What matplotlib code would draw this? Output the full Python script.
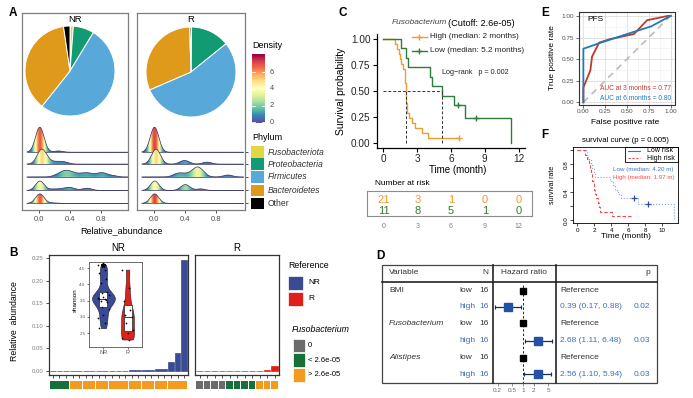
import numpy as np
import matplotlib
matplotlib.use('Agg')
import matplotlib.pyplot as plt
from matplotlib.lines import Line2D
from matplotlib.patches import Rectangle, Polygon
from matplotlib.colors import Normalize

plt.rcParams['font.family'] = ['Liberation Sans', 'DejaVu Sans']

W, H = 693, 398

# ---------------- data ----------------
# A: phylum share per group (%)
phyla = ['Fusobacteriota', 'Proteobacteria', 'Firmicutes', 'Bacteroidetes', 'Other']
pie_nr = [1.2, 7.5, 52.0, 37.0, 2.3]
pie_r = [0.2, 14.0, 54.3, 31.0, 0.5]

# A: per-sample relative abundance, used for the ridge densities
nr_fuso = [0.0, 0.0, 0.0, 0.0, 0.001, 0.001, 0.001, 0.002, 0.002, 0.003, 0.003,
           0.004, 0.005, 0.006, 0.008, 0.01, 0.012, 0.015, 0.02, 0.025, 0.245]
nr_prot = [0.0, 0.005, 0.01, 0.015, 0.02, 0.02, 0.025, 0.03, 0.03, 0.035, 0.04,
           0.045, 0.05, 0.06, 0.08, 0.1, 0.14, 0.2, 0.25, 0.3, 0.34]
nr_firm = [0.22, 0.27, 0.3, 0.32, 0.34, 0.36, 0.38, 0.4, 0.43, 0.47, 0.52,
           0.56, 0.6, 0.63, 0.66, 0.72, 0.78, 0.8, 0.83, 0.86, 0.95]
nr_bact = [0.0, 0.0, 0.001, 0.002, 0.003, 0.005, 0.008, 0.01, 0.012, 0.015, 0.02,
           0.15, 0.22, 0.3, 0.35, 0.38, 0.41, 0.44, 0.58, 0.62, 0.65]
nr_other = [0.0, 0.0, 0.0, 0.001, 0.001, 0.002, 0.002, 0.003, 0.003, 0.004, 0.005,
            0.006, 0.007, 0.008, 0.01, 0.012, 0.015, 0.018, 0.02, 0.03, 0.17]
r_fuso = [0.0, 0.0, 0.0, 0.0, 0.001, 0.001, 0.002, 0.003, 0.005, 0.008, 0.012]
r_prot = [0.0, 0.005, 0.01, 0.02, 0.025, 0.03, 0.04, 0.05, 0.37, 0.41, 0.68]
r_firm = [0.28, 0.33, 0.4, 0.48, 0.52, 0.54, 0.56, 0.57, 0.6, 0.63, 0.95]
r_bact = [0.0, 0.0, 0.002, 0.005, 0.01, 0.02, 0.37, 0.39, 0.41, 0.43, 0.6]
r_other = [0.0, 0.0, 0.0, 0.001, 0.002, 0.003, 0.004, 0.005, 0.006, 0.008, 0.01]

# B: Fusobacterium relative abundance per patient (sorted)
fuso_nr = [1.0e-5, 1.5e-5, 2.0e-5, 0.0001, 0.0002, 0.0003, 0.0004, 0.0005, 0.0006,
           0.0007, 0.0008, 0.001, 0.0012, 0.0015, 0.002, 0.003, 0.004, 0.0055,
           0.02, 0.04, 0.245]
fuso_r = [0, 0, 0, 0, 1.0e-5, 1.2e-5, 1.5e-5, 2.0e-5, 0.0006, 0.003, 0.011]
cutoff = 2.6e-05
# B inset: shannon index
shannon_nr = [4.6, 4.45, 4.35, 4.15, 4.05, 3.75, 3.72, 3.68, 3.6, 3.57, 3.55,
              3.55, 3.52, 3.5, 3.45, 3.3, 3.25, 3.05, 2.95, 2.8, 2.65]
shannon_r = [4.45, 3.9, 3.5, 3.2, 3.05, 3.0, 2.8, 2.6, 2.5, 2.35, 2.3]

# C: survival by Fusobacterium (months, 1 = event)
high_time = [1.05, 1.2, 1.35, 1.45, 1.55, 1.7, 1.9, 1.92, 1.94, 1.96, 2.0,
             2.0, 2.02, 2.05, 2.1, 2.3, 2.55, 2.8, 3.4, 4.0, 6.7]
high_event = [1] * 20 + [0]
low_time = [1.57, 2.0, 2.2, 4.15, 4.3, 5.2, 6.3, 6.6, 7.2, 8.2, 11.35]
low_event = [1, 1, 1, 1, 1, 1, 1, 0, 1, 0, 1]
risk_times = [0, 3, 6, 9, 12]

# D: Cox model
forest_vars = ['BMI', 'Fusobacterium', 'Alistipes']
forest_n = [16, 16, 16]
forest_hr = [0.39, 2.68, 2.56]
forest_lo = [0.17, 1.11, 1.10]
forest_hi = [0.88, 6.48, 5.94]
forest_p = ['0.02', '0.03', '0.03']

# E: time-dependent ROC
fpr_3m = [0, 0, 0.08, 0.1, 0.18, 0.3, 0.58, 0.73, 0.97, 1.0]
tpr_3m = [0, 0.17, 0.37, 0.53, 0.69, 0.73, 0.79, 0.95, 1.0, 1.0]
fpr_6m = [0, 0, 0.2, 0.5, 0.78, 1.0]
tpr_6m = [0, 0.62, 0.69, 0.79, 0.88, 1.0]
auc_3m, auc_6m = 0.77, 0.80

# F: risk score survival
lowrisk_time = [1.1, 1.3, 1.6, 1.8, 2.0, 2.1, 3.9, 4.2, 4.5, 4.8, 5.1, 6.7, 7.1, 8.3, 11.4, 11.4]
lowrisk_event = [1] * 11 + [0, 1, 0, 1, 1]
highrisk_time = [0.9, 1.2, 1.35, 1.5, 1.6, 1.7, 1.8, 1.97, 2.0, 2.1, 2.2, 2.4, 2.6, 2.7, 4.1, 6.3]
highrisk_event = [1] * 15 + [0]

# ---------------- colours ----------------
phylum_colors = ['#E3D545', '#129A72', '#58A9DA', '#DF9A1B', '#000000']
nr_col, r_col = '#3B4A94', '#E0201B'
grp_gray, grp_green, grp_orange = '#6B6B6B', '#17703A', '#F39A1F'
c_high, c_low = '#F29B30', '#2E7D3B'
d_blue, d_sq = '#3F6EB5', '#2451A4'
gray_txt = '#4D4D4D'

fig = plt.figure(figsize=(W / 100, H / 100), dpi=100)


def rect(l, t, r, b):
    return [l / W, 1 - b / H, (r - l) / W, (b - t) / H]


def ftext(x, y, s, **kw):
    kw.setdefault('va', 'center')
    kw.setdefault('ha', 'left')
    fig.text(x / W, 1 - y / H, s, **kw)


def fline(xs, ys, **kw):
    fig.add_artist(Line2D([x / W for x in xs], [1 - y / H for y in ys],
                          transform=fig.transFigure, **kw))


def fbox(l, t, r, b, **kw):
    fig.add_artist(Rectangle((l / W, 1 - b / H), (r - l) / W, (b - t) / H,
                             transform=fig.transFigure, **kw))


def km(times, events):
    t = np.asarray(times, float)
    e = np.asarray(events)
    xs, ys, cens = [0.0], [1.0], []
    s = 1.0
    for ut in np.unique(t):
        n = (t >= ut).sum()
        d = e[t == ut].sum()
        if d:
            s *= 1 - d / n
            xs.append(ut)
            ys.append(s)
        if (t == ut).sum() - d:
            cens.append((ut, s))
    xs.append(t.max())
    ys.append(s)
    return np.array(xs), np.array(ys), cens


def km_median(x, y):
    return x[np.argmax(y <= 0.5)]


# panel letters
for lab, x, y in [('A', 13, 13), ('B', 13, 253), ('C', 343, 13),
                  ('D', 380, 256), ('E', 545, 13), ('F', 545, 135)]:
    ftext(x, y, lab, ha='center', fontsize=8.5, fontweight='bold')

# ================= A =================
cmap = plt.get_cmap('Spectral_r')
dnorm = Normalize(0, 8.2)
xg = np.linspace(-0.16, 1.15, 400)
bw = 0.055
baselines = [152.2, 164.1, 176.9, 190.5, 203.4]
ridge_nr = [nr_fuso, nr_prot, nr_firm, nr_bact, nr_other]
ridge_r = [r_fuso, r_prot, r_firm, r_bact, r_other]
peak_nr = [25, 15, 6.7, 9.5, 9.5]
peak_r = [25, 15, 10, 9.5, 9.5]


def kde(vals):
    v = np.asarray(vals)[:, None]
    return np.exp(-0.5 * ((xg - v) / bw) ** 2).sum(0) / (len(vals) * bw * np.sqrt(2 * np.pi))


facets = [('NR', (22, 13, 128, 210), (-0.224, 1.148), (25, 26, 115, 116), pie_nr, ridge_nr, peak_nr),
          ('R', (137, 13, 245, 210), (-0.223, 1.17), (146, 27, 236, 117), pie_r, ridge_r, peak_r)]
for name, bpx, xl, ppx, pvals, groups, peaks in facets:
    ax = fig.add_axes(rect(*bpx))
    for i, (y0, vals, hp) in enumerate(zip(baselines, groups, peaks)):
        d = kde(vals)
        h = y0 - d / d.max() * hp
        poly = Polygon(np.column_stack([np.r_[xg, xg[::-1]], np.r_[h, np.full_like(xg, y0)]]),
                       closed=True, fc='none', ec='none')
        ax.add_patch(poly)
        im = ax.imshow(d[None, :], cmap=cmap, norm=dnorm, aspect='auto',
                       extent=(xg[0], xg[-1], y0, y0 - hp - 1), interpolation='bilinear',
                       zorder=2 + i)
        im.set_clip_path(poly)
        ax.plot(xg, h, color='#2D2F5E', lw=0.5, zorder=2.5 + i)
        ax.plot([xg[0], xg[-1]], [y0, y0], color='#2D2F5E', lw=0.5, zorder=2.5 + i)
    ax.set_xlim(xl)
    ax.set_ylim(bpx[3], bpx[1])
    ax.set_xticks([0, 0.4, 0.8])
    ax.set_xticklabels(['0.0', '0.4', '0.8'])
    ax.tick_params(axis='x', length=2.5, width=0.6, color='#333333', labelsize=5.5,
                   labelcolor=gray_txt, pad=1.5)
    if name == 'R':
        ax.yaxis.tick_right()
        ax.set_yticks(baselines)
        ax.set_yticklabels([])
        ax.tick_params(axis='y', length=2.5, width=0.6, color='#333333')
    else:
        ax.set_yticks([])
    for sp in ax.spines.values():
        sp.set_color('#7F7F7F')
        sp.set_linewidth(0.9)
    ax.text(np.mean(xl), 19, name, ha='center', va='center', fontsize=6.8)
    pa = fig.add_axes(rect(*ppx))
    pa.pie(pvals, colors=phylum_colors, startangle=90, counterclock=False,
           wedgeprops=dict(edgecolor='white', linewidth=0.7))
    pa.set_xlim(-1, 1)
    pa.set_ylim(-1, 1)
    pa.set_aspect('equal')

ftext(121, 231, 'Relative_abundance', ha='center', fontsize=6.5)

# density colour bar
cax = fig.add_axes(rect(252, 54, 265, 123))
grad = np.linspace(-0.12, 8.24, 256)[:, None]
cax.imshow(grad, cmap=cmap, norm=dnorm, aspect='auto', origin='lower', extent=(0, 1, -0.12, 8.24))
for v in [0, 2, 4, 6]:
    cax.plot([0, 0.2], [v, v], color='white', lw=0.6)
    cax.plot([0.8, 1], [v, v], color='white', lw=0.6)
    ftext(270, 122 - v * 8.25, str(v), fontsize=5.3, color=gray_txt)
cax.set_xlim(0, 1)
cax.set_ylim(-0.12, 8.24)
cax.set_xticks([])
cax.set_yticks([])
for sp in cax.spines.values():
    sp.set_visible(False)
ftext(252, 46, 'Density', fontsize=6.5)

ftext(252, 137, 'Phylum', fontsize=6.5)
for i, (ph, col) in enumerate(zip(phyla, phylum_colors)):
    y = baselines[i]
    fbox(251, y - 5.8, 264, y + 5.8, facecolor=col, edgecolor='none')
    ftext(268, y, ph, fontsize=6.2, color='#333333',
          fontstyle='normal' if ph == 'Other' else 'italic')

# ================= B =================
def grp_color(v):
    if v == 0:
        return grp_gray
    return grp_green if v < cutoff else grp_orange


for name, bpx, vals, col in [('NR', (49, 255, 188, 375), fuso_nr, nr_col),
                             ('R', (195, 255, 279, 375), fuso_r, r_col)]:
    bx = fig.add_axes(rect(*bpx))
    xs = np.arange(1, len(vals) + 1)
    bx.bar(xs, vals, width=0.9, color=col, edgecolor=col, linewidth=0.5)
    bx.set_xlim(0.4, len(vals) + 0.6)
    bx.set_ylim(-0.0088, 0.2566)
    bx.set_xticks(xs)
    bx.set_xticklabels([])
    bx.tick_params(axis='x', length=2.5, width=0.6, color='#333333')
    if name == 'NR':
        bx.set_yticks([0, 0.05, 0.1, 0.15, 0.2, 0.25])
        bx.set_yticklabels(['0.00', '0.05', '0.10', '0.15', '0.20', '0.25'])
        bx.tick_params(axis='y', length=2.5, width=0.6, color='#333333', labelsize=4.3,
                       labelcolor='#7F7F7F', pad=1.5)
    else:
        bx.set_yticks([])
    for sp in bx.spines.values():
        sp.set_color('#333333')
        sp.set_linewidth(0.9)
    ftext((bpx[0] + bpx[2]) / 2, 248, name, ha='center', fontsize=7)
    sx = fig.add_axes(rect(bpx[0], 381, bpx[2], 389))
    sx.bar(xs, 1, width=0.92, color=[grp_color(v) for v in vals])
    sx.set_xlim(0.4, len(vals) + 0.6)
    sx.set_ylim(0, 1)
    sx.axis('off')

ftext(15, 321, 'Relative  abundance', ha='center', rotation=90, fontsize=6.3)

# inset violin
vx = fig.add_axes(rect(89, 262, 142, 347))
parts = vx.violinplot([shannon_nr, shannon_r], positions=[1, 2], widths=[0.95, 0.55],
                      showextrema=False, bw_method=0.35)
for b, c in zip(parts['bodies'], [nr_col, r_col]):
    b.set_facecolor(c)
    b.set_edgecolor('#222222')
    b.set_alpha(1)
    b.set_linewidth(0.4)
vx.boxplot([shannon_nr, shannon_r], positions=[1, 2], widths=0.33, whis=0,
           showcaps=False, showfliers=False, patch_artist=True,
           boxprops=dict(facecolor='white', edgecolor='#222222', linewidth=0.5),
           medianprops=dict(color='#222222', linewidth=0.6),
           whiskerprops=dict(linewidth=0))
for pos, vals in [(1, shannon_nr), (2, shannon_r)]:
    jit = ((np.arange(len(vals)) * 5) % 9 - 4) * 0.055
    vx.scatter(pos + jit, vals, s=1.5, color='black', zorder=5, linewidths=0)
vx.plot([1], [max(shannon_nr)], marker='*', color='black', ms=3.5, zorder=6)
vx.set_xlim(0.4, 2.6)
vx.set_ylim(2.07, 4.685)
vx.set_yticks([2.5, 3.0, 3.5, 4.0, 4.5])
vx.set_yticklabels(['2.5', '3.0', '3.5', '4.0', '4.5'])
vx.set_xticks([1, 2])
vx.set_xticklabels(['NR', 'R'])
vx.tick_params(length=1.5, width=0.4, labelsize=3.2, labelcolor='#555555', pad=1)
vx.tick_params(axis='x', labelsize=4)
for sp in vx.spines.values():
    sp.set_color('#555555')
    sp.set_linewidth(0.6)
ftext(75, 300, 'shannon', ha='center', rotation=90, fontsize=4.5)

# B legends
ftext(288, 265, 'Reference', fontsize=6.3)
fbox(288, 276, 303, 290, facecolor=nr_col, edgecolor='white', lw=0.5)
fbox(288, 292, 303, 306, facecolor=r_col, edgecolor='white', lw=0.5)
ftext(308, 283, 'NR', fontsize=6)
ftext(308, 299, 'R', fontsize=6)
ftext(292, 329, 'Fusobacterium', fontsize=6.3, fontstyle='italic')
for (t, b), col, lab in zip([(339, 352.3), (353.3, 366.7), (368.3, 381.7)],
                            [grp_gray, grp_green, grp_orange],
                            ['0', '< 2.6e-05', '> 2.6e-05']):
    fbox(293, t, 305, b, facecolor=col, edgecolor='white', lw=0.5)
    ftext(308, (t + b) / 2, lab, fontsize=5.5)

# ================= C =================
cx = fig.add_axes(rect(376.75, 33.5, 525.25, 148.2))
cx.set_xlim(-0.6, 12.6)
cx.set_ylim(-0.05, 1.05)
medians = []
for tt, ee, col in [(high_time, high_event, c_high), (low_time, low_event, c_low)]:
    x, y, cens = km(tt, ee)
    cx.step(x, y, where='post', color=col, lw=1.0)
    cx.plot([c[0] for c in cens], [c[1] for c in cens], '+', color=col, ms=5, mew=1)
    medians.append(km_median(x, y))
cx.plot([0, max(medians)], [0.5, 0.5], ls='--', color='#333333', lw=0.7, dashes=(3, 2))
for m in medians:
    cx.plot([m, m], [0, 0.5], ls='--', color='#333333', lw=0.7, dashes=(3, 2))
cx.set_xticks(risk_times)
cx.set_yticks([0, 0.25, 0.5, 0.75, 1.0])
cx.set_yticklabels(['0.00', '0.25', '0.50', '0.75', '1.00'])
cx.tick_params(length=3, width=0.8, labelsize=7.2, pad=1.5, labelcolor='#222222')
for sp in ['top', 'right']:
    cx.spines[sp].set_visible(False)
for sp in ['left', 'bottom']:
    cx.spines[sp].set_linewidth(0.9)
ftext(458, 170, 'Time (month)', ha='center', fontsize=7)
ftext(341, 91, 'Survival probability', ha='center', rotation=90, fontsize=7.5)
ftext(447, 23, 'Fusobacterium', ha='right', fontsize=6, fontstyle='italic', color='#444444')
ftext(448, 23, '(Cutoff: 2.6e-05)', fontsize=6.6)
for y, col, lab in [(37, c_high, 'High (median: 2 months)'),
                    (51, c_low, 'Low (median: 5.2 months)')]:
    fline([412, 427], [y, y], color=col, lw=1.0)
    fline([419.5], [y], color=col, marker='+', ms=5, mew=1)
    ftext(430, y, lab, fontsize=5.9, color='#222222')
ftext(442, 72, 'Log\u2212rank   p = 0.002', fontsize=5.2, color='#222222')

# risk table
ftext(375, 183, 'Number at risk', fontsize=6)
rx = fig.add_axes(rect(367, 191, 532, 216))
rx.set_xlim(-1.467, 13.2)
rx.set_ylim(0, 1)
rx.set_xticks([])
rx.set_yticks([])
for sp in rx.spines.values():
    sp.set_color('#8C8C8C')
    sp.set_linewidth(0.8)
for tt, col, yy in [(high_time, c_high, 0.64), (low_time, c_low, 0.19)]:
    arr = np.asarray(tt)
    for tp in risk_times:
        rx.text(tp, yy, str((arr >= tp).sum()), ha='center', va='center', fontsize=8, color=col)
for tp in risk_times:
    ftext(383.5 + 11.25 * tp, 226, str(tp), ha='center', fontsize=5, color='#7F7F7F')

# ================= D =================
fbox(382, 265, 657, 383.3, fill=False, edgecolor='#444444', lw=0.9)
fline([382, 657], [281.7, 281.7], color='#222222', lw=1.2)
fline([492.7, 492.7], [265, 383.3], color='#222222', lw=1.2)
fline([555.7, 555.7], [265, 383.3], color='#222222', lw=1.2)
ftext(389, 273, 'Variable', fontsize=6, color='#333333')
ftext(488.3, 273, 'N', ha='right', fontsize=6, color='#333333')
ftext(524, 273, 'Hazard ratio', ha='center', fontsize=6, color='#333333')
ftext(650, 273, 'p', ha='right', fontsize=6, color='#333333')
row_y = [291, 306.7, 323.3, 340.7, 357.7, 374.3]

fx_ = fig.add_axes(rect(492.7, 281.7, 555.7, 383.3))
fx_.set_xscale('log')
fx_.set_xlim(0.146, 8.0)
fx_.set_ylim(383.3, 281.7)
fx_.patch.set_alpha(0)
fx_.plot([1, 1], [285, 383.3], ls='--', color='#222222', lw=0.7, dashes=(2.5, 2))
for i, var in enumerate(forest_vars):
    yl, yh = row_y[2 * i], row_y[2 * i + 1]
    ftext(389, yl, var, fontsize=6, color='#333333',
          fontstyle='normal' if i == 0 else 'italic')
    ftext(459.3, yl, 'low', fontsize=6, color='#333333')
    ftext(488.3, yl, str(forest_n[i]), ha='right', fontsize=6, color='#333333')
    ftext(459.3, yh, 'high', fontsize=6, color=d_blue)
    ftext(488.3, yh, str(forest_n[i]), ha='right', fontsize=6, color=d_blue)
    ftext(560, yl, 'Reference', fontsize=6, color='#333333')
    ftext(560, yh, f'{forest_hr[i]:.2f} ({forest_lo[i]:.2f}, {forest_hi[i]:.2f})',
          fontsize=6, color=d_blue)
    ftext(650, yh, forest_p[i], ha='right', fontsize=6, color=d_blue)
    fx_.plot([1], [yl], marker='s', ms=5, color='black', zorder=4)
    fx_.plot([forest_lo[i], forest_hi[i]], [yh, yh], color='#1B2B5B', lw=0.9, zorder=3)
    fx_.plot([forest_lo[i], forest_hi[i]], [yh, yh], ls='none', marker='|', ms=3.5,
             mew=0.8, color='#1B2B5B', zorder=3)
    fx_.plot([forest_hr[i]], [yh], marker='s', ms=5.5, color=d_sq, zorder=4)
fx_.set_xticks([0.2, 0.5, 1, 2, 5])
fx_.set_xticklabels(['0.2', '0.5', '1', '2', '5'])
fx_.minorticks_off()
fx_.set_yticks([])
fx_.tick_params(axis='x', length=2, width=0.5, color='#666666', labelsize=4.6,
                labelcolor='#666666', pad=1.5)
for sp in fx_.spines.values():
    sp.set_visible(False)

# ================= E =================
ex = fig.add_axes(rect(579, 12, 675, 104.5))
ex.set_xlim(-0.05, 1.05)
ex.set_ylim(-0.025, 1.045)
ticks = [0, 0.25, 0.5, 0.75, 1.0]
ex.set_xticks(ticks)
ex.set_yticks(ticks)
ex.set_xticklabels(['0.00', '0.25', '0.50', '0.75', '1.00'])
ex.set_yticklabels(['0.00', '0.25', '0.50', '0.75', '1.00'])
ex.set_xticks(np.arange(0.125, 1.0, 0.25), minor=True)
ex.set_yticks(np.arange(0.125, 1.0, 0.25), minor=True)
ex.grid(True, which='major', color='#DDDDDD', lw=0.6)
ex.grid(True, which='minor', color='#EEEEEE', lw=0.4)
ex.set_axisbelow(True)
ex.tick_params(which='major', length=2, width=0.5, color='#333333', labelsize=4.6,
               labelcolor=gray_txt, pad=1.2)
ex.tick_params(which='minor', length=0)
for sp in ex.spines.values():
    sp.set_color('#333333')
    sp.set_linewidth(0.8)
ex.plot([0, 1], [0, 1], ls='--', color='#BBBBBB', lw=1.2, dashes=(4, 3))
ex.plot(fpr_3m, tpr_3m, color='#C0392B', lw=1.3)
ex.plot(fpr_6m, tpr_6m, color='#2379B7', lw=1.3)
ftext(587, 19.5, 'PFS', fontsize=6)
ftext(600, 89, f'AUC at 3 months = {auc_3m:.2f}', fontsize=4.8, color='#C0392B')
ftext(600, 99, f'AUC at 6 months = {auc_6m:.2f}', fontsize=4.8, color='#2379B7')
ftext(625, 122, 'False positive rate', ha='center', fontsize=6)
ftext(553, 58, 'True positive rate', ha='center', rotation=90, fontsize=6)

# ================= F =================
fx = fig.add_axes(rect(573.3, 147.3, 678, 223.3))
fx.set_xlim(-0.456, 11.856)
fx.set_ylim(-0.04, 1.04)
x, y, cens = km(lowrisk_time, lowrisk_event)
fx.step(x, y, where='post', color='#7EA2DC', lw=0.8, ls=':')
fx.plot([c[0] for c in cens], [c[1] for c in cens], '+', color='#2E4FA0', ms=4.5, mew=0.9)
x, y, cens = km(highrisk_time, highrisk_event)
fx.step(x, y, where='post', color='#F44A4A', lw=0.8, ls='--', dashes=(3, 2))
fx.set_xticks([0, 2, 4, 6, 8, 10])
fx.set_yticks([0, 0.2, 0.4, 0.6, 0.8, 1.0])
fx.set_yticklabels(['0.0', '', '0.4', '', '0.8', ''], rotation=90, va='center')
fx.tick_params(length=2, width=0.5, labelsize=4.5, pad=1.2)
for sp in fx.spines.values():
    sp.set_linewidth(0.6)
ftext(626, 140, 'survival curve (p = 0.005)', ha='center', fontsize=5.6)
ftext(626, 237, 'Time (month)', ha='center', fontsize=6)
ftext(553, 185, 'survival rate', ha='center', rotation=90, fontsize=5)
fbox(625, 147.3, 678, 162.3, fill=False, edgecolor='black', lw=0.6)
fline([628, 640], [150.7, 150.7], color='#4472C4', lw=0.8)
fline([628, 640], [158.3, 158.3], color='#F44A4A', lw=0.8, ls='--', dashes=(2, 1.5))
ftext(647, 150.7, 'Low risk', fontsize=5)
ftext(647, 158.3, 'High risk', fontsize=5)
ftext(612.7, 170, 'Low (median: 4.20 m)', fontsize=4.5, color='#4472C4')
ftext(612.7, 177.7, 'High (median: 1.97 m)', fontsize=4.5, color='#F44A4A')

fig.savefig('out.png', dpi=100)
